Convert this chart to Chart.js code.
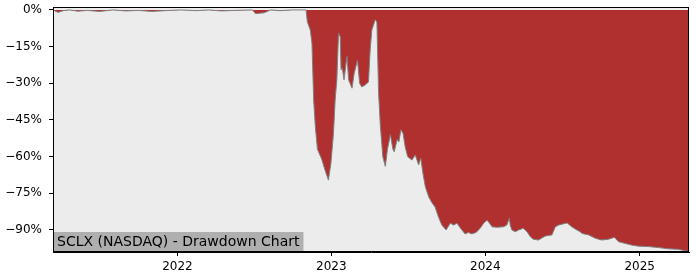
<!DOCTYPE html>
<html>
<head>
<meta charset="utf-8" />
<script src="https://cdn.jsdelivr.net/npm/chart.js@4/dist/chart.umd.min.js"></script>
<style>
  html, body { margin: 0; padding: 0; background: #ffffff; }
  #wrap { width: 700px; height: 280px; }
</style>
</head>
<body>
<div id="wrap"><canvas id="myChart" width="700" height="280"></canvas></div>
<script>
const title = "SCLX (NASDAQ) - Drawdown Chart";

const dates = [
  "2021-03-12", "2021-03-24", "2021-04-05", "2021-04-20", "2021-05-10", "2021-06-01",
  "2021-07-01", "2021-08-01", "2021-09-01", "2021-10-01", "2021-11-01", "2021-12-01",
  "2022-01-10", "2022-02-15", "2022-03-15", "2022-04-15", "2022-05-15", "2022-06-28",
  "2022-07-05", "2022-07-25", "2022-08-10", "2022-09-01", "2022-10-01", "2022-11-02",
  "2022-11-05", "2022-11-12", "2022-11-16", "2022-11-20", "2022-11-24", "2022-11-29",
  "2022-12-09", "2022-12-17", "2022-12-25", "2022-12-31", "2023-01-06", "2023-01-10",
  "2023-01-14", "2023-01-18", "2023-01-22", "2023-01-24", "2023-01-27", "2023-01-31",
  "2023-02-07", "2023-02-11", "2023-02-19", "2023-02-24", "2023-03-04", "2023-03-09",
  "2023-03-14", "2023-03-22", "2023-03-30", "2023-04-03", "2023-04-07", "2023-04-15",
  "2023-04-19", "2023-04-23", "2023-04-27", "2023-05-03", "2023-05-09", "2023-05-14",
  "2023-05-21", "2023-05-27", "2023-05-30", "2023-06-06", "2023-06-10", "2023-06-15",
  "2023-06-20", "2023-06-25", "2023-07-01", "2023-07-11", "2023-07-19", "2023-07-27",
  "2023-08-01", "2023-08-06", "2023-08-12", "2023-08-20", "2023-08-28", "2023-09-04",
  "2023-09-12", "2023-09-20", "2023-09-30", "2023-10-10", "2023-10-18", "2023-10-26",
  "2023-11-02", "2023-11-14", "2023-11-22", "2023-11-30", "2023-12-10", "2023-12-20",
  "2023-12-28", "2024-01-05", "2024-01-11", "2024-01-17", "2024-01-28", "2024-02-13",
  "2024-02-21", "2024-02-27", "2024-02-29", "2024-03-04", "2024-03-12", "2024-03-20",
  "2024-03-31", "2024-04-09", "2024-04-17", "2024-04-24", "2024-05-06", "2024-05-14",
  "2024-05-22", "2024-06-07", "2024-06-15", "2024-06-23", "2024-07-01", "2024-07-13",
  "2024-07-24", "2024-08-05", "2024-08-13", "2024-08-17", "2024-09-02", "2024-09-18",
  "2024-10-03", "2024-10-19", "2024-11-02", "2024-11-12", "2024-11-28", "2024-12-14",
  "2024-12-29", "2025-01-22", "2025-02-15", "2025-03-10", "2025-04-03", "2025-04-19",
  "2025-04-27"
];

const drawdown = [
  0, -1.0, -0.3, 0, -0.5, -0.2,
  -0.6, 0, -0.4, -0.2, -0.6, -0.3,
  0, -0.3, 0, -0.4, -0.2, 0,
  -1.5, -1.2, 0, -0.3, 0, 0,
  -4.8, -8.2, -13.6, -36.8, -47.8, -57,
  -61, -65.5, -69.6, -62.7, -50.5, -36.8,
  -28.6, -9.5, -11, -24.5, -23.8, -28.6,
  -19, -28.6, -32, -26, -20.5, -30,
  -31.5, -30.7, -29.5, -16.4, -8.2, -4,
  -4.9, -34, -47, -60, -64, -57,
  -51, -57, -58, -53, -54, -49,
  -50.5, -56, -60, -61.4, -59.3, -63.4,
  -60.6, -66.7, -72.4, -76.5, -79, -80.6,
  -84.7, -88, -90, -87.2, -88, -87.2,
  -89, -91.6, -91, -91.6, -91, -89.3,
  -87.2, -86, -87.2, -88.7, -88.9, -88.7,
  -88, -85.2, -88, -90, -90.7, -90,
  -89.3, -90.7, -92.8, -93.8, -94.1, -93.3,
  -92.5, -92, -88.7, -88, -87.6, -87.1,
  -88.7, -90, -90.7, -91.4, -92, -93.4,
  -94.1, -93.8, -93, -94.8, -95.5, -96.2,
  -96.6, -96.8, -97.2, -97.7, -97.9, -98.5,
  -98.9
];

const yTicks = [0, -15, -30, -45, -60, -75, -90];
const xTickYears = [2022, 2023, 2024, 2025];

const toTime = (s) => Date.parse(s + "T00:00:00Z");
const points = dates.map((d, i) => ({ x: toTime(d), y: drawdown[i] }));

const plotBackground = {
  id: "plotBackground",
  beforeDraw: (chart) => {
    const { ctx, chartArea } = chart;
    ctx.save();
    ctx.fillStyle = "#ececec";
    ctx.fillRect(chartArea.left, chartArea.top, chartArea.right - chartArea.left, chartArea.bottom - chartArea.top);
    ctx.restore();
  },
  afterDraw: (chart) => {
    const { ctx, chartArea } = chart;
    ctx.save();
    // frame
    ctx.strokeStyle = "#000000";
    ctx.lineWidth = 1;
    ctx.strokeRect(chartArea.left + 0.5, chartArea.top + 0.5, chartArea.right - chartArea.left - 1, chartArea.bottom - chartArea.top - 1);
    // title box
    ctx.font = "14px 'DejaVu Sans'";
    const w = ctx.measureText(title).width;
    ctx.fillStyle = "rgba(160,160,160,0.8)";
    ctx.fillRect(chartArea.left + 1, chartArea.bottom - 20, w + 7, 19);
    ctx.fillStyle = "#000000";
    ctx.textBaseline = "middle";
    ctx.fillText(title, chartArea.left + 4, chartArea.bottom - 10);
    ctx.restore();
  },
};

const config = {
  type: "line",
  data: {
    datasets: [
      {
        label: "Drawdown",
        data: points,
        borderColor: "#808080",
        borderWidth: 1,
        backgroundColor: "#b03030",
        fill: { value: 0 },
        pointRadius: 0,
        tension: 0,
      },
    ],
  },
  options: {
    responsive: false,
    animation: false,
    layout: { padding: { top: 7, right: 11, left: 0, bottom: 0 } },
    plugins: {
      legend: { display: false },
      tooltip: { enabled: false },
    },
    scales: {
      x: {
        type: "linear",
        min: toTime("2021-03-12"),
        max: toTime("2025-04-28"),
        afterFit: (axis) => {
          axis.height = 28;
          axis.paddingLeft = 0;
          axis.paddingRight = 0;
        },
        afterBuildTicks: (axis) => {
          axis.ticks = xTickYears.map((y) => ({ value: toTime(y + "-01-01") }));
        },
        grid: { drawOnChartArea: false, tickLength: 4, color: "#000000" },
        border: { display: true, color: "#000000" },
        ticks: {
          color: "#000000",
          font: { family: "DejaVu Sans", size: 12 },
          padding: 4,
          maxRotation: 0,
          callback: (v) => String(new Date(v).getUTCFullYear()),
        },
      },
      y: {
        min: -99,
        max: 1.2,
        afterFit: (axis) => {
          axis.width = 53;
          axis.paddingTop = 0;
          axis.paddingBottom = 0;
        },
        afterBuildTicks: (axis) => {
          axis.ticks = yTicks.map((v) => ({ value: v }));
        },
        grid: { drawOnChartArea: false, tickLength: 4, color: "#000000" },
        border: { display: true, color: "#000000" },
        ticks: {
          color: "#000000",
          font: { family: "DejaVu Sans", size: 12 },
          padding: 7,
          callback: (v) => (v < 0 ? "\u2212" + Math.abs(v) : v) + "%",
        },
      },
    },
  },
  plugins: [plotBackground],
};

new Chart(document.getElementById("myChart"), config);
</script>
</body>
</html>
